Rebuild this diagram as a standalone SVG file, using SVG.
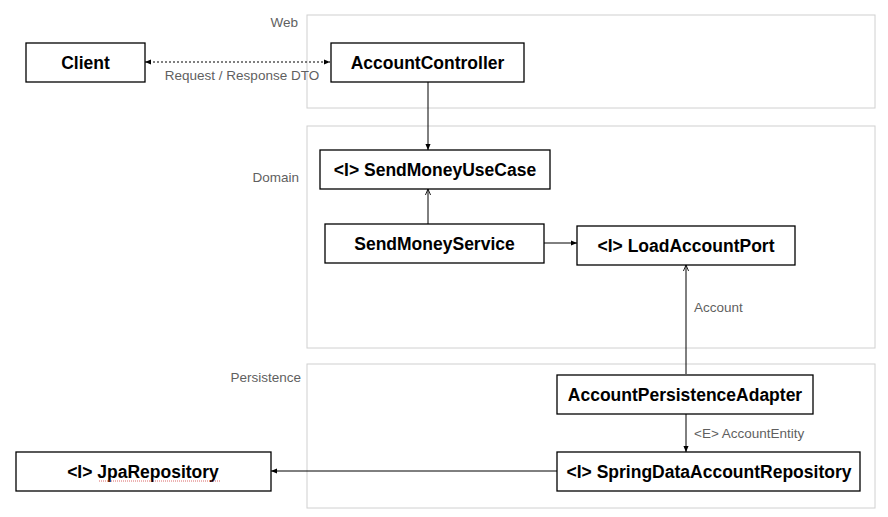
<svg xmlns="http://www.w3.org/2000/svg" width="888" height="517" viewBox="0 0 888 517">
<defs>
<style>
.cont{fill:#fff;stroke:#d0d0d0;stroke-width:1}
.node{fill:#fff;stroke:#000;stroke-width:1.3}
.nt{font-family:"Liberation Sans",Arial,sans-serif;font-size:17.5px;font-weight:bold;fill:#000;text-anchor:middle;dominant-baseline:central}
.lbl{font-family:"Liberation Sans",Arial,sans-serif;font-size:13.5px;fill:#5f5f5f}
.edge{stroke:#000;stroke-width:1;fill:none}
</style>
<marker id="ah" viewBox="0 0 8 8" refX="7" refY="4" markerWidth="7" markerHeight="7" markerUnits="userSpaceOnUse" orient="auto-start-reverse">
<path d="M0,1 L7,4 L0,7 z" fill="#000"/>
</marker>
<marker id="oh" viewBox="0 0 8 8" refX="7" refY="4" markerWidth="7" markerHeight="7" markerUnits="userSpaceOnUse" orient="auto">
<path d="M0,1 L7,4 L0,7" fill="none" stroke="#000" stroke-width="1"/>
</marker>
</defs>
<rect width="888" height="517" fill="#fff"/>
<g id="web">
<rect class="cont" x="307" y="15" width="568" height="93"/>
<text class="lbl" x="298" y="27" text-anchor="end">Web</text>
</g>
<g id="domain">
<rect class="cont" x="307" y="126" width="568" height="222"/>
<text class="lbl" x="299" y="182" text-anchor="end">Domain</text>
</g>
<g id="persistence">
<rect class="cont" x="307" y="364" width="568" height="144"/>
<text class="lbl" x="301" y="382" text-anchor="end">Persistence</text>
</g>
<g id="connectors">
<line class="edge" x1="145" y1="62" x2="330" y2="62" stroke-dasharray="2,2" marker-start="url(#ah)" marker-end="url(#ah)"/>
<text class="lbl" x="242" y="80" text-anchor="middle">Request / Response DTO</text>
<line class="edge" x1="428" y1="82" x2="428" y2="150" marker-end="url(#ah)"/>
<line class="edge" x1="428" y1="224" x2="428" y2="189" marker-end="url(#oh)"/>
<line class="edge" x1="544" y1="243" x2="577" y2="243" marker-end="url(#ah)"/>
<line class="edge" x1="686" y1="374" x2="686" y2="265" marker-end="url(#oh)"/>
<text class="lbl" x="694" y="312">Account</text>
<line class="edge" x1="686" y1="414" x2="686" y2="452" marker-end="url(#ah)"/>
<text class="lbl" x="694" y="438">&lt;E&gt; AccountEntity</text>
<line class="edge" x1="557" y1="471" x2="271" y2="471" marker-end="url(#ah)"/>
</g>
<g id="client">
<rect class="node" x="26" y="43" width="119" height="39"/>
<text class="nt" x="85.5" y="62.5">Client</text>
</g>
<g id="accountController">
<rect class="node" x="331" y="43" width="193" height="39"/>
<text class="nt" x="427.5" y="62.5">AccountController</text>
</g>
<g id="sendMoneyUseCase">
<rect class="node" x="320" y="150" width="230" height="39"/>
<text class="nt" x="435" y="169.5">&lt;I&gt; SendMoneyUseCase</text>
</g>
<g id="sendMoneyService">
<rect class="node" x="325" y="224" width="219" height="39"/>
<text class="nt" x="434.5" y="243.5">SendMoneyService</text>
</g>
<g id="loadAccountPort">
<rect class="node" x="577" y="226" width="218" height="39"/>
<text class="nt" x="686" y="245.5">&lt;I&gt; LoadAccountPort</text>
</g>
<g id="accountPersistenceAdapter">
<rect class="node" x="557" y="375" width="256" height="39"/>
<text class="nt" x="685" y="394.5">AccountPersistenceAdapter</text>
</g>
<g id="springDataAccountRepository">
<rect class="node" x="557" y="452" width="303" height="39"/>
<text class="nt" x="709" y="471.5">&lt;I&gt; SpringDataAccountRepository</text>
</g>
<g id="jpaRepository">
<rect class="node" x="16" y="452" width="255" height="39"/>
<text class="nt" x="143" y="471.5">&lt;I&gt; JpaRepository</text>
<line x1="99" y1="481" x2="221" y2="481" stroke="#d04040" stroke-width="0.8" stroke-dasharray="1,1"/>
</g>
</svg>
